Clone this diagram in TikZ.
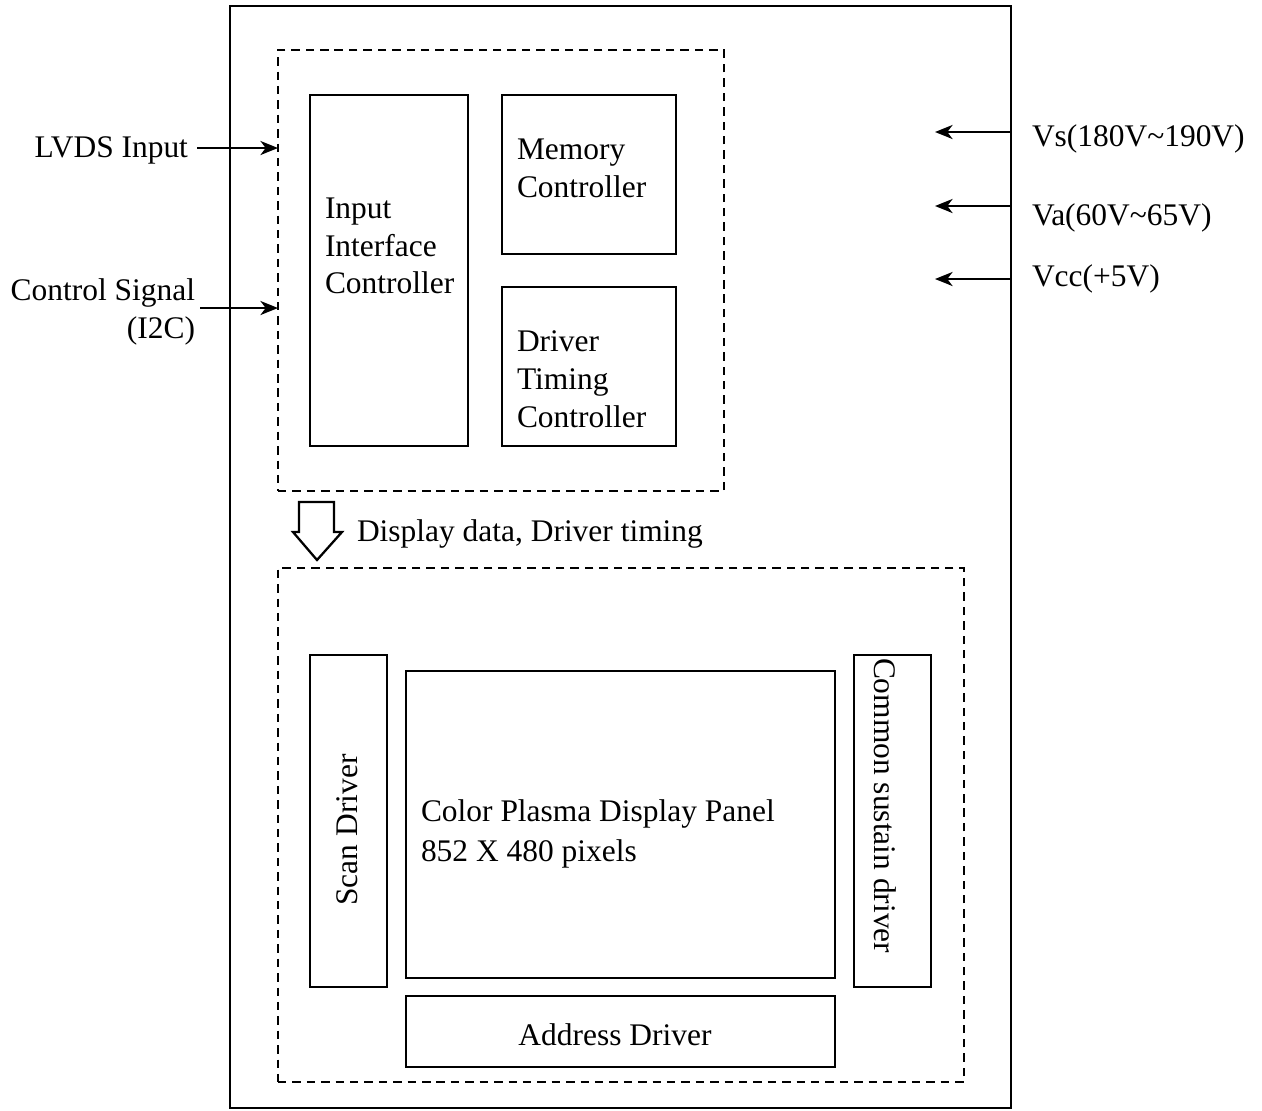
\documentclass[tikz,border=0pt]{standalone}
\usepackage{fontspec}
\setmainfont{Liberation Serif}
\usetikzlibrary{arrows,arrows.meta}
\begin{document}
\begin{tikzpicture}[x=0.02cm,y=-0.02cm]
\tikzstyle{every node}=[inner sep=0pt, outer sep=0pt, font=\fontsize{17.9}{21.5}\selectfont]
\tikzstyle{blk}=[draw, line width=1.3pt, anchor=north west]
\tikzstyle{dbox}=[draw, line width=1.5pt, dash pattern=on 4.8pt off 3.4pt, anchor=north west]
\tikzset{sig/.style={line width=1.3pt, -{Stealth[length=10pt, width=8pt, inset=3pt]}}}
\useasboundingbox (0,0) rectangle (1262,1110);
% frame and the two groups
\node (outer) [blk, minimum width=15.62cm, minimum height=22.04cm] at (230,6) {};
\node (ctl) [dbox, minimum width=8.92cm, minimum height=8.82cm] at (278,50) {};
\node (pdp) [dbox, minimum width=13.72cm, minimum height=10.28cm] at (278,568) {};
% controller blocks
\node (iic) [blk, minimum width=3.16cm, minimum height=7.02cm] at (310,95) {};
\node (mem) [blk, minimum width=3.48cm, minimum height=3.18cm] at (502,95) {};
\node (dtc) [blk, minimum width=3.48cm, minimum height=3.18cm] at (502,287) {};
\node (iict) [anchor=west, align=left] at (325,246) {Input\\Interface\\Controller};
\node (memt) [anchor=west, align=left] at (517,168) {Memory\\Controller};
\node (dtct) [anchor=west, align=left] at (517,379) {Driver\\Timing\\Controller};
% panel blocks
\node (scan) [blk, minimum width=1.54cm, minimum height=6.64cm] at (310,655) {};
\node (panel) [blk, minimum width=8.58cm, minimum height=6.14cm] at (406,671) {};
\node (sus) [blk, minimum width=1.54cm, minimum height=6.64cm] at (854,655) {};
\node (addr) [blk, minimum width=8.58cm, minimum height=1.42cm] at (406,996) {};
\node (scant) [rotate=90] at (347,830) {Scan Driver};
\node (panelt) [anchor=west, align=left] at (421,834) {Color Plasma Display Panel\\[1pt]852 X 480 pixels};
\node (sust) [rotate=-90, anchor=west] at (885,658) {Common sustain driver};
\node (addrt) at (615,1035) {Address Driver};
% inputs
\node (lvds) [anchor=east] at (188,150) {LVDS Input};
\node (i2c) [anchor=east, align=right] at (195,312) {Control Signal\\(I2C)};
\coordinate (lvdsin) at (197,148);
\coordinate (i2cin) at (200,308);
\draw[sig] (lvdsin) -- (ctl.west |- lvdsin);
\draw[sig] (i2cin) -- (ctl.west |- i2cin);
% supplies
\coordinate (vsin) at (935,132);
\coordinate (vain) at (935,206);
\coordinate (vccin) at (935,279);
\draw[sig] (outer.east |- vsin) -- (vsin);
\draw[sig] (outer.east |- vain) -- (vain);
\draw[sig] (outer.east |- vccin) -- (vccin);
\node (vs) [anchor=west] at (1032,139) {Vs(180V\textasciitilde190V)};
\node (va) [anchor=west] at (1032,218) {Va(60V\textasciitilde65V)};
\node (vcc) [anchor=west] at (1032,279) {Vcc(+5V)};
% data flow
\draw[line width=1.3pt, line join=miter] (299,502) -- (334,502) -- (334,532) -- (342,532) -- (317,560) -- (293,532) -- (299,532) -- cycle;
\node (flow) [anchor=west] at (357,534) {Display data, Driver timing};
\end{tikzpicture}
\end{document}
